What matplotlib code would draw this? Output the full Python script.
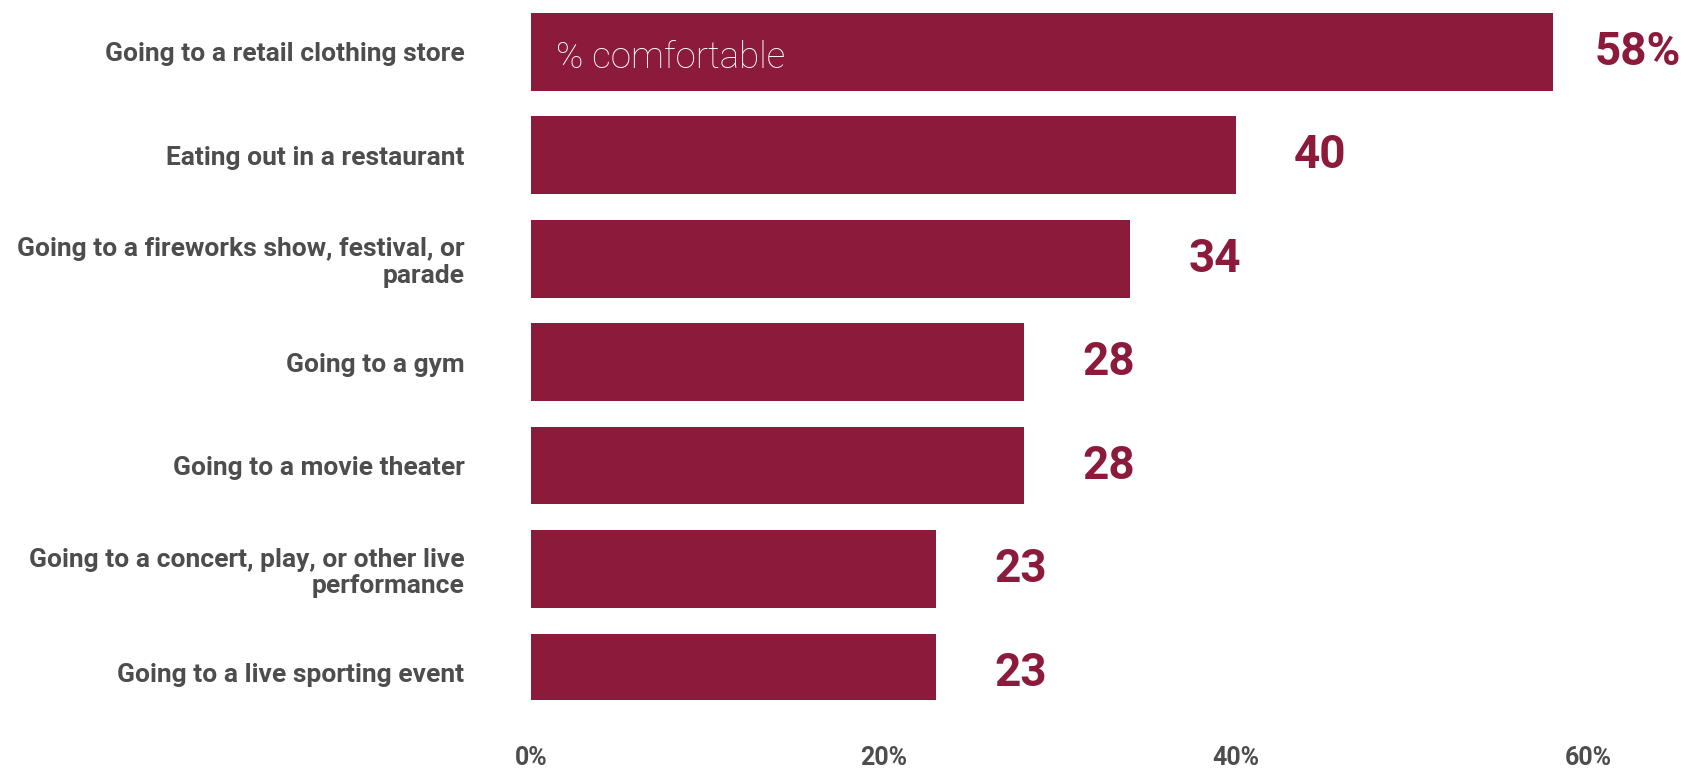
import matplotlib
matplotlib.use('Agg')
import matplotlib.pyplot as plt

activities = [
    'Going to a retail clothing store',
    'Eating out in a restaurant',
    'Going to a fireworks show, festival, or\nparade',
    'Going to a gym',
    'Going to a movie theater',
    'Going to a concert, play, or other live\nperformance',
    'Going to a live sporting event',
]
pct_comfortable = [58, 40, 34, 28, 28, 23, 23]
value_labels = ['58%', '40', '34', '28', '28', '23', '23']
x_ticks = [0, 20, 40, 60]
x_tick_labels = ['0%', '20%', '40%', '60%']

BAR_COLOR = '#8B1A3B'
TEXT_GRAY = '#4D4D4D'

plt.rcParams['font.family'] = ['Roboto', 'DejaVu Sans']

fig = plt.figure(figsize=(16.86, 7.68), dpi=100)
ax = fig.add_axes([0.315, 0.0885, 0.627, 0.9115])

ypos = list(range(len(activities)))
ax.barh(ypos, pct_comfortable, height=0.75, color=BAR_COLOR)

for y, v, lab in zip(ypos, pct_comfortable, value_labels):
    ax.text(v + 4.8, y, lab, ha='center', va='center', color=BAR_COLOR,
            fontsize=33, fontweight='bold', clip_on=False)

ax.text(1.4, 0.06, '% comfortable', ha='left', va='center', color='white',
        fontsize=26.5, fontweight='light')

ax.set_xlim(0, 60)
ax.set_ylim(6.265, -0.5)
ax.set_yticks(ypos)
ax.set_yticklabels(activities, fontsize=19, fontweight='bold', color=TEXT_GRAY,
                   linespacing=1.15)
ax.set_xticks(x_ticks)
ax.set_xticklabels(x_tick_labels, fontsize=18, fontweight='bold', color=TEXT_GRAY)
ax.tick_params(axis='y', length=0, pad=48)
ax.tick_params(axis='x', length=0, pad=33)
for side in ax.spines.values():
    side.set_visible(False)

fig.savefig('out.png', dpi=100, facecolor='white')
